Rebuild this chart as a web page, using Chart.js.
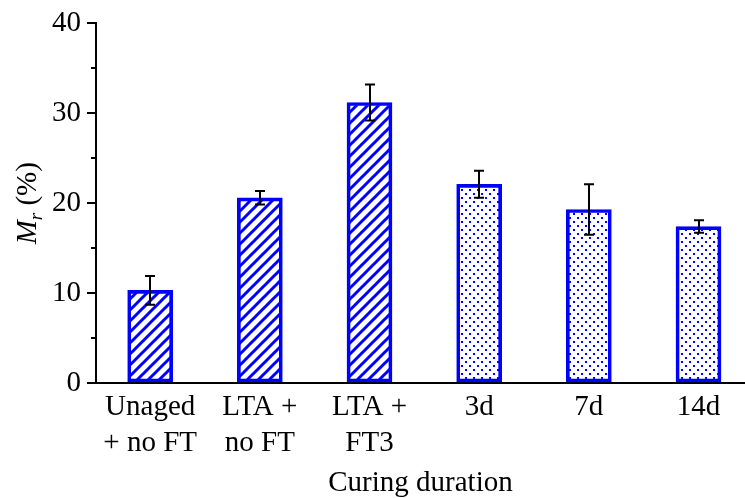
<!DOCTYPE html>
<html lang="en">
<head>
  <meta charset="UTF-8" />
  <title>Mr vs curing duration</title>
  <script src="https://cdn.jsdelivr.net/npm/chart.js"></script>
  <style>
    html, body {
      margin: 0;
      padding: 0;
      background: #ffffff;
    }
    canvas {
      display: block;
    }
  </style>
</head>
<body>
  <canvas id="mrChart" width="745" height="498"></canvas>

  <script>
    // Data
    const categories = [['Unaged', '+ no FT'], ['LTA +', 'no FT'], ['LTA +', 'FT3'], ['3d'], ['7d'], ['14d']];
    const mrValues = [10.3, 20.6, 31.2, 22.1, 19.3, 17.4];
    const mrErrors = [1.6, 0.75, 2.0, 1.5, 2.8, 0.7];
    const fillKinds = ['hatch', 'hatch', 'hatch', 'dots', 'dots', 'dots'];
    const yMin = 0;
    const yMax = 40;
    const yMajorStep = 10;
    const yMinorStep = 5;

    const BLUE = '#0000ff';
    const SERIF = "'Liberation Serif', 'Times New Roman', serif";
    const FONT_SIZE = 29;

    function hatchPattern(ctx) {
      const c = document.createElement('canvas');
      c.width = 11; c.height = 11;
      const g = c.getContext('2d');
      g.strokeStyle = BLUE;
      g.lineWidth = 3;
      g.beginPath();
      g.moveTo(-5.5, 5.5); g.lineTo(5.5, -5.5);
      g.moveTo(0, 11); g.lineTo(11, 0);
      g.moveTo(5.5, 16.5); g.lineTo(16.5, 5.5);
      g.stroke();
      return ctx.createPattern(c, 'repeat');
    }

    function dotPattern(ctx) {
      const c = document.createElement('canvas');
      c.width = 8; c.height = 8;
      const g = c.getContext('2d');
      g.fillStyle = BLUE;
      g.fillRect(1, 1, 2, 2);
      g.fillRect(5, 5, 2, 2);
      return ctx.createPattern(c, 'repeat');
    }

    const extras = {
      id: 'extras',
      afterDatasetsDraw(chart) {
        const { ctx, scales: { x, y } } = chart;
        ctx.save();
        ctx.strokeStyle = '#000';
        ctx.lineWidth = 2;
        mrValues.forEach((v, i) => {
          const px = Math.round(x.getPixelForValue(i));
          const top = y.getPixelForValue(v + mrErrors[i]);
          const bot = y.getPixelForValue(v - mrErrors[i]);
          ctx.beginPath();
          ctx.moveTo(px, top); ctx.lineTo(px, bot);
          ctx.moveTo(px - 5, top); ctx.lineTo(px + 5, top);
          ctx.moveTo(px - 5, bot); ctx.lineTo(px + 5, bot);
          ctx.stroke();
        });
        ctx.restore();
      },
      afterDraw(chart) {
        const { ctx, scales: { y }, chartArea } = chart;
        ctx.save();
        // minor ticks on the y axis
        ctx.strokeStyle = '#000';
        ctx.lineWidth = 2;
        for (let v = yMin + yMinorStep; v < yMax; v += yMajorStep) {
          const py = Math.round(y.getPixelForValue(v));
          ctx.beginPath();
          ctx.moveTo(chartArea.left - 5, py);
          ctx.lineTo(chartArea.left, py);
          ctx.stroke();
        }

        // y axis title: M_r (%)
        const cy = (chartArea.top + chartArea.bottom) / 2;
        ctx.translate(36, cy);
        ctx.rotate(-Math.PI / 2);
        ctx.fillStyle = '#000';
        ctx.textBaseline = 'alphabetic';
        const mFont = 'italic ' + FONT_SIZE + 'px ' + SERIF;
        const rFont = 'italic 19px ' + SERIF;
        const pFont = FONT_SIZE + 'px ' + SERIF;
        ctx.font = mFont; const wM = ctx.measureText('M').width;
        ctx.font = rFont; const wR = ctx.measureText('r').width;
        ctx.font = pFont; const wP = ctx.measureText(' (%)').width;
        let tx = -(wM + wR + wP) / 2;
        ctx.font = mFont; ctx.fillText('M', tx, 0); tx += wM;
        ctx.font = rFont; ctx.fillText('r', tx, 6); tx += wR;
        ctx.font = pFont; ctx.fillText(' (%)', tx, 0);
        ctx.restore();
      }
    };

    function render() {
      const canvas = document.getElementById('mrChart');
      const ctx = canvas.getContext('2d');

      Chart.defaults.font.family = SERIF;
      Chart.defaults.font.size = FONT_SIZE;
      Chart.defaults.color = '#000';

      const fills = fillKinds.map(k => k === 'hatch' ? hatchPattern(ctx) : dotPattern(ctx));

      new Chart(ctx, {
        type: 'bar',
        data: {
          datasets: [{
            data: mrValues.map((v, i) => ({ x: i, y: v })),
            backgroundColor: fills,
            borderColor: BLUE,
            borderWidth: 3,
            borderSkipped: false,
            barThickness: 45
          }]
        },
        options: {
          responsive: false,
          animation: false,
          layout: { padding: { top: 23, right: 0, bottom: 0, left: 0 } },
          plugins: {
            legend: { display: false },
            tooltip: { enabled: false }
          },
          scales: {
            x: {
              type: 'linear',
              offset: false,
              min: -0.494,
              max: 5.424,
              afterBuildTicks: scale => {
                scale.ticks = categories.map((_, i) => ({ value: i }));
              },
              afterFit: scale => { scale.height = 115; },
              grid: { display: false, drawTicks: false, offset: false },
              border: { display: true, color: '#000', width: 2 },
              ticks: {
                padding: 6,
                maxRotation: 0,
                autoSkip: false,
                font: { size: FONT_SIZE, lineHeight: 1.24 },
                callback: v => categories[v]
              },
              title: {
                display: true,
                text: 'Curing duration',
                font: { size: FONT_SIZE },
                padding: { top: 0, bottom: -3 }
              }
            },
            y: {
              min: yMin,
              max: yMax,
              afterFit: scale => { scale.width = 96; },
              grid: {
                drawOnChartArea: false,
                drawTicks: true,
                tickLength: 9,
                lineWidth: 2,
                color: c => (c.tick && c.tick.value % yMajorStep === 0) ? '#000' : 'rgba(0,0,0,0)'
              },
              border: { display: true, color: '#000', width: 2 },
              ticks: {
                stepSize: yMinorStep,
                padding: 6,
                font: { size: FONT_SIZE },
                callback: v => (v % yMajorStep === 0 ? v : '')
              }
            }
          }
        },
        plugins: [extras]
      });
    }

    render();
  </script>
</body>
</html>
